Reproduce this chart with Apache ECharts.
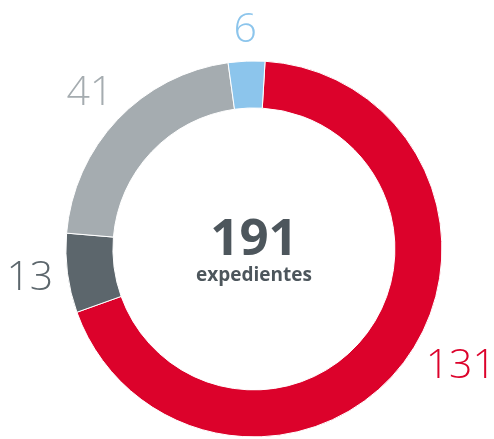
<!DOCTYPE html>
<html>
<head>
<meta charset="utf-8">
<script src="https://cdn.jsdelivr.net/npm/echarts@6/dist/echarts.min.js"></script>
<style>html,body{margin:0;padding:0;background:#fff;}#chart{width:494px;height:439px;}</style>
</head>
<body>
<div id="chart"></div>
<script>
const categories = ['A', 'B', 'C', 'D'];
const values = [131, 13, 41, 6];
const colors = ['#dc022b', '#5c666c', '#a5acb0', '#8cc5ec'];
const centerLabel = 'expedientes';

const total = values.reduce((a, b) => a + b, 0);
const chart = echarts.init(document.getElementById('chart'));
const font = '"Open Sans", "Noto Sans", sans-serif';

const data = categories.map((c, i) => {
  const item = { name: c, value: values[i], itemStyle: { color: colors[i] },
    label: { color: colors[i] } };
  if (i === 0) item.labelLine = { length: 8, length2: 50 };
  if (i === 3) item.labelLine = { length: 31, length2: 0 };
  return item;
});

chart.setOption({
  animation: false,
  series: [{
    type: 'pie',
    center: ['51.4%', '56.7%'],
    radius: [141, 188],
    startAngle: 86.6,
    clockwise: true,
    avoidLabelOverlap: false,
    itemStyle: { borderColor: '#fff', borderWidth: 1 },
    label: {
      show: true, position: 'outside', distanceToLabelLine: 0,
      formatter: '{c}', fontFamily: font, fontSize: 41, fontWeight: 300
    },
    labelLine: { show: false, length: 38, length2: 0 },
    labelLayout: function (p) {
      const r = p.labelRect;
      const ax = p.align === 'right' ? r.x + r.width : (p.align === 'center' ? r.x + r.width / 2 : r.x);
      return { x: ax, y: r.y + r.height / 2, align: 'center', verticalAlign: 'middle' };
    },
    emphasis: { disabled: true },
    data: data
  }],
  graphic: [
    { type: 'text', x: 254, y: 240, style: { text: String(total), font: 'bold 51px ' + font, fill: '#4d565c', align: 'center', verticalAlign: 'middle' } },
    { type: 'text', x: 254, y: 276, style: { text: centerLabel, font: 'bold 19px ' + font, fill: '#4d565c', align: 'center', verticalAlign: 'middle' } }
  ]
});
</script>
</body>
</html>
